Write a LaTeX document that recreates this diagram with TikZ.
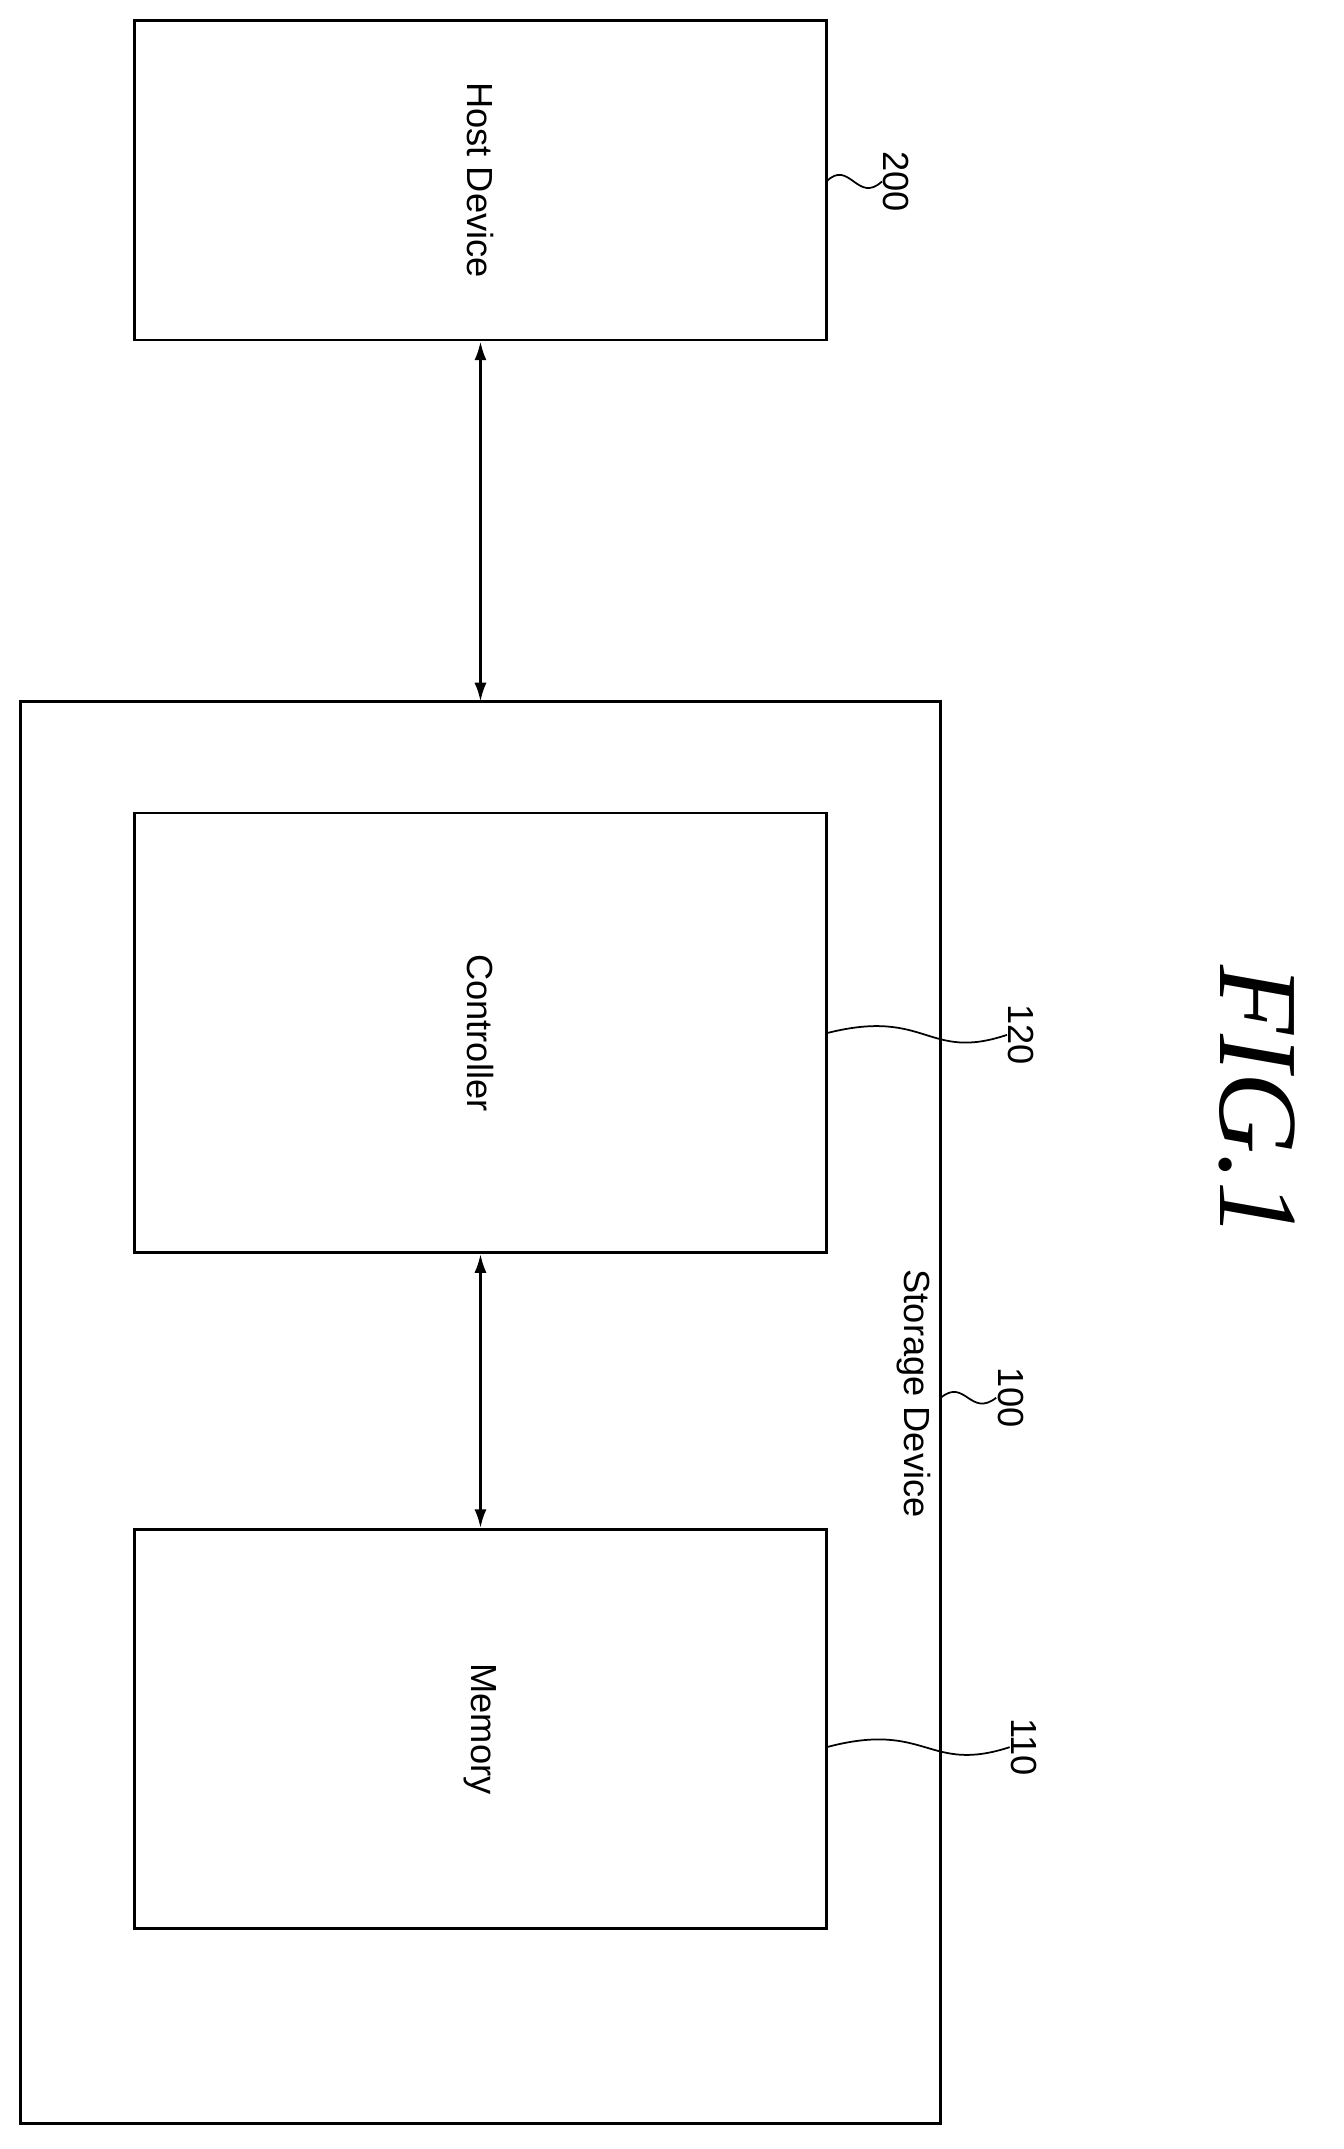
\documentclass[tikz,border=0pt]{standalone}
\usepackage{fontspec}
\usetikzlibrary{arrows.meta}
\setmainfont{Liberation Sans}
\newfontfamily\figfont{Liberation Serif}
\begin{document}
\begin{tikzpicture}[x=1pt,y=-1pt,
  box/.style={draw,line width=2pt},
  lbl/.style={rotate=-90,font=\fontsize{27}{30}\selectfont},
  lead/.style={line width=1.3pt},
  arr/.style={{Latex[length=14pt,width=9pt]}-{Latex[length=14pt,width=9pt]},line width=2pt}]
\useasboundingbox (0,0) rectangle (1000,1599);
\draw[box] (15,522) rectangle (700,1580);
\node[box,minimum width=515pt,minimum height=238pt,inner sep=0] (host) at (357.5,134) {};
\node[box,minimum width=515pt,minimum height=327pt,inner sep=0] (ctrl) at (357.5,768.5) {};
\node[box,minimum width=515pt,minimum height=297pt,inner sep=0] (mem) at (357.5,1286.5) {};
\coordinate (stop) at (357.5,522);
\node[lbl] at (host) {Host Device};
\node[lbl] at (ctrl) {Controller};
\node[lbl] at (mem) {Memory};
\node[lbl] (sd) at (680,1037) {Storage Device};
\draw[arr] (host.south) -- (stop);
\draw[arr] (ctrl.south) -- (mem.north);
\node[lbl,inner sep=1pt] (l200) at (667,135) {200};
\node[lbl,inner sep=1pt] (l120) at (760,770) {120};
\node[lbl,inner sep=1pt] (l100) at (752,1040) {100};
\node[lbl,inner sep=1pt] (l110) at (762,1300) {110};
\draw[lead] (615,135) .. controls (632,118) and (638,152) .. (l200.south);
\draw[lead] (ctrl.east) .. controls (690,750) and (690,790) .. (l120.south);
\draw[lead] (700,1040) .. controls (718,1025) and (722,1055) .. (l100.south);
\draw[lead] (615,1300) .. controls (690,1280) and (690,1320) .. (l110.south);
\node[rotate=-90,font=\figfont\itshape\fontsize{84}{90}\selectfont] (fig) at (935,820) {FIG.1};
\end{tikzpicture}
\end{document}
